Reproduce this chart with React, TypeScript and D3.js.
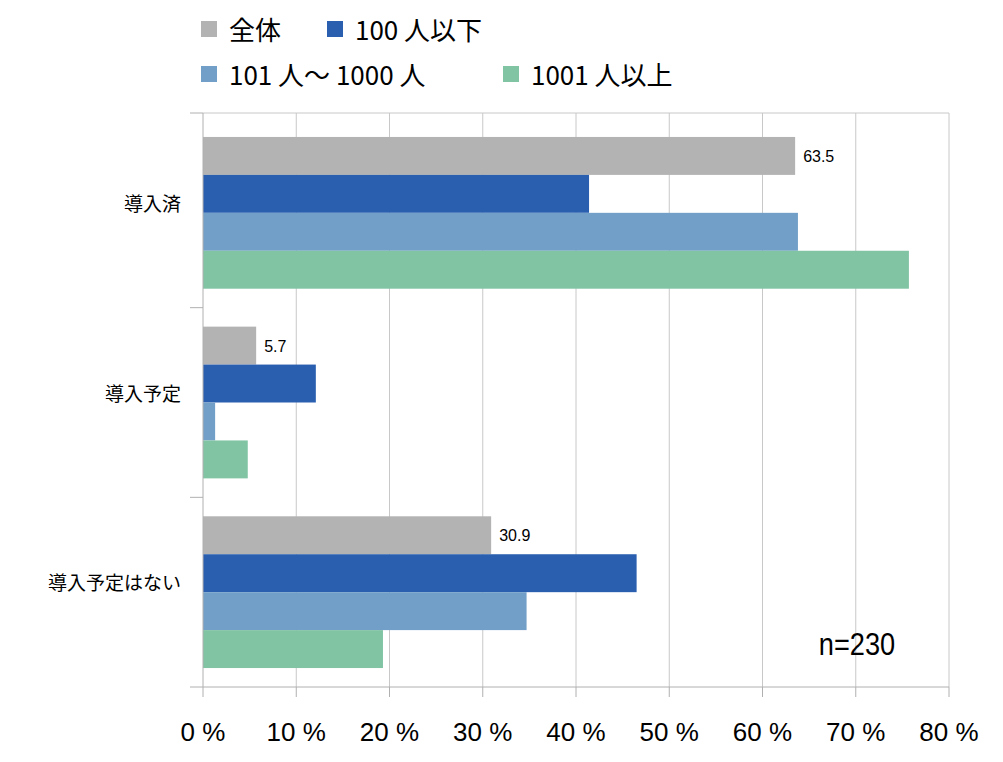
import React, { useEffect, useRef } from "react";
import * as d3 from "d3";

const categories = ["導入済", "導入予定", "導入予定はない"];
const seriesNames = ["全体", "100 人以下", "101 人〜 1000 人", "1001 人以上"];
const seriesColors = ["#b3b3b3", "#2a5fb0", "#729fc8", "#81c4a4"];
const values = [
  [63.5, 41.4, 63.8, 75.7],
  [5.7, 12.1, 1.3, 4.8],
  [30.9, 46.5, 34.7, 19.3],
];
const xTicks = [0, 10, 20, 30, 40, 50, 60, 70, 80];

const App: React.FC = () => {
  const svgRef = useRef<SVGSVGElement | null>(null);

  useEffect(() => {
    const width = 1003;
    const height = 762;
    const left = 203, right = 949, top = 113, bottom = 687;
    const font = "'Liberation Sans', Arial, sans-serif";

    const svg = d3.select(svgRef.current).attr("width", width).attr("height", height);
    svg.selectAll("*").remove();
    svg.append("rect").attr("width", width).attr("height", height).attr("fill", "#fff");

    const x = d3.scaleLinear().domain([0, 80]).range([left, right]);
    const y = d3.scaleBand().domain(categories).range([top + 5, bottom]).padding(0);
    const inner = d3.scaleBand().domain(seriesNames.map(String)).range([0, y.bandwidth()]).paddingOuter(0.5).paddingInner(0);

    // gridlines
    svg.append("g").selectAll("line").data(xTicks.slice(1)).enter().append("line")
      .attr("x1", (d) => x(d)).attr("x2", (d) => x(d))
      .attr("y1", top).attr("y2", bottom).attr("stroke", "#c8c8c8").attr("stroke-width", 1);
    svg.append("line").attr("x1", left).attr("x2", right).attr("y1", top).attr("y2", top)
      .attr("stroke", "#c8c8c8");

    // bars
    categories.forEach((c, ci) => {
      const g = svg.append("g").attr("transform", `translate(0,${y(c)})`);
      g.selectAll("rect").data(values[ci]).enter().append("rect")
        .attr("x", left)
        .attr("y", (_, i) => inner(seriesNames[i])!)
        .attr("width", (d) => x(d) - left)
        .attr("height", inner.bandwidth())
        .attr("fill", (_, i) => seriesColors[i]);
      g.append("text")
        .attr("x", x(values[ci][0]) + 8)
        .attr("y", inner(seriesNames[0])! + inner.bandwidth() / 2 + 6)
        .style("font-family", font).style("font-size", "16px").attr("fill", "#000")
        .text(values[ci][0].toFixed(1));
    });

    // axes
    const axisColor = "#b0b0b0";
    svg.append("line").attr("x1", left).attr("x2", left).attr("y1", top).attr("y2", bottom).attr("stroke", axisColor);
    svg.append("line").attr("x1", 190).attr("x2", right).attr("y1", bottom).attr("y2", bottom).attr("stroke", axisColor);
    svg.append("g").selectAll("line").data(xTicks).enter().append("line")
      .attr("x1", (d) => x(d)).attr("x2", (d) => x(d))
      .attr("y1", bottom).attr("y2", bottom + 10).attr("stroke", axisColor);
    const seps = [top, ...categories.slice(1).map((c) => y(c)!)];
    svg.append("g").selectAll("line").data(seps).enter().append("line")
      .attr("x1", 190).attr("x2", left).attr("y1", (d) => d).attr("y2", (d) => d).attr("stroke", axisColor);

    svg.append("g").selectAll("text").data(xTicks).enter().append("text")
      .attr("x", (d) => x(d)).attr("y", 741).attr("text-anchor", "middle")
      .style("font-family", font).style("font-size", "26px").attr("fill", "#000")
      .text((d) => `${d} %`);

    svg.append("g").selectAll("text").data(categories).enter().append("text")
      .attr("x", 181).attr("y", (d) => y(d)! + y.bandwidth() / 2 - 2).attr("text-anchor", "end")
      .style("font-family", "'Noto Sans CJK JP', sans-serif").style("font-size", "19px").attr("fill", "#000")
      .text((d) => d);

    // legend
    const legendPos = [[201, 30], [327, 30], [201, 75], [503, 75]];
    seriesNames.forEach((s, i) => {
      const [lx, ly] = legendPos[i];
      svg.append("rect").attr("x", lx).attr("y", ly - 9).attr("width", 16).attr("height", 16).attr("fill", seriesColors[i]);
      svg.append("text").attr("x", lx + 28).attr("y", ly + 10)
        .style("font-family", "'Noto Sans CJK JP', sans-serif").style("font-size", "26px").attr("fill", "#000").text(s);
    });

    svg.append("text").attr("x", 857).attr("y", 655).attr("text-anchor", "middle")
      .attr("transform", "translate(857,655) scale(0.85,1) translate(-857,-655)")
      .style("font-family", font).style("font-size", "32px").attr("fill", "#000").text("n=230");
  }, []);

  return <svg ref={svgRef} style={{ position: "absolute", left: 0, top: 0 }}></svg>;
};

export default App;
